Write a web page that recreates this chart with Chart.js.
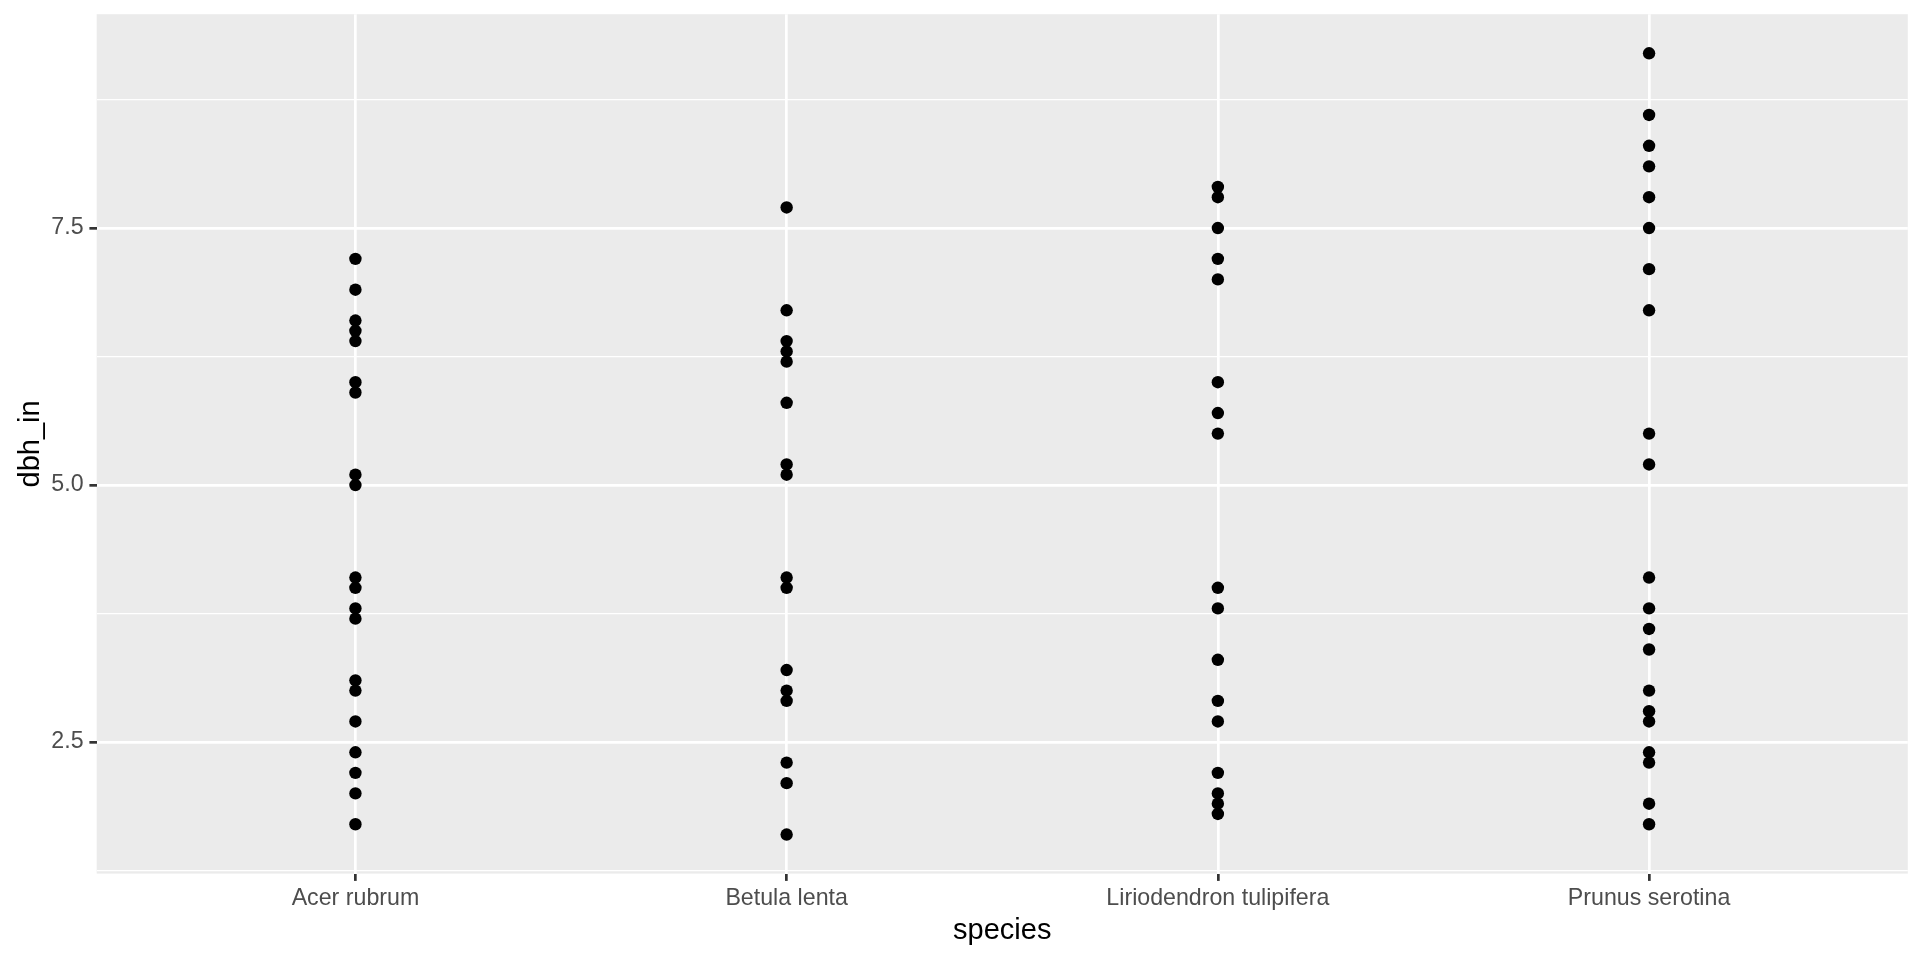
<!DOCTYPE html>
<html>
<head>
<meta charset="utf-8">
<script src="https://cdn.jsdelivr.net/npm/chart.js@4.4.1/dist/chart.umd.min.js"></script>
<style>
  html, body { margin: 0; padding: 0; background: #ffffff; }
  #wrap { width: 1920px; height: 960px; }
</style>
</head>
<body>
<div id="wrap"><canvas id="c" width="1920" height="960"></canvas></div>
<script>
const categories = ["Acer rubrum", "Betula lenta", "Liriodendron tulipifera", "Prunus serotina"];
const acerRubrum = [7.2, 6.9, 6.6, 6.5, 6.4, 6.0, 5.9, 5.1, 5.0, 4.1, 4.0, 3.8, 3.7, 3.1, 3.0, 2.7, 2.4, 2.2, 2.0, 1.7];
const betulaLenta = [7.7, 6.7, 6.4, 6.3, 6.2, 5.8, 5.2, 5.1, 4.1, 4.0, 3.2, 3.0, 2.9, 2.3, 2.1, 1.6];
const liriodendron = [7.9, 7.8, 7.5, 7.2, 7.0, 6.0, 5.7, 5.5, 4.0, 3.8, 3.3, 2.9, 2.7, 2.2, 2.0, 1.9, 1.8];
const prunusSerotina = [9.2, 8.6, 8.3, 8.1, 7.8, 7.5, 7.1, 6.7, 5.5, 5.2, 4.1, 3.8, 3.6, 3.4, 3.0, 2.8, 2.7, 2.4, 2.3, 1.9, 1.7];
const yMajorTicks = [2.5, 5.0, 7.5];
const yMinorTicks = [1.25, 3.75, 6.25, 8.75];
const yTickLabels = ["2.5", "5.0", "7.5"];

const seriesValues = [acerRubrum, betulaLenta, liriodendron, prunusSerotina];
const points = [];
seriesValues.forEach((vals, i) => vals.forEach(v => points.push({ x: i + 1, y: v })));

const panelBg = {
  id: 'panelBg',
  beforeDraw(chart) {
    const { ctx, chartArea: a } = chart;
    ctx.save();
    ctx.fillStyle = '#EBEBEB';
    ctx.fillRect(a.left, a.top, a.right - a.left, a.bottom - a.top);
    ctx.restore();
  }
};

const isMajorY = v => yMajorTicks.some(t => Math.abs(t - v) < 1e-9);
const FONT = 'Liberation Sans, Arial, sans-serif';

new Chart(document.getElementById('c'), {
  type: 'scatter',
  data: {
    datasets: [{
      data: points,
      backgroundColor: '#000000',
      borderWidth: 0,
      pointRadius: 6.2,
      pointHoverRadius: 6.2
    }]
  },
  options: {
    responsive: false,
    animation: false,
    devicePixelRatio: 1,
    layout: { padding: { left: 0, top: 14.2, right: 12.2, bottom: 0 } },
    plugins: { legend: { display: false }, tooltip: { enabled: false } },
    scales: {
      x: {
        type: 'linear',
        min: 0.4,
        max: 4.6,
        afterBuildTicks(scale) {
          scale.ticks = categories.map((c, i) => ({ value: i + 1 }));
        },
        afterFit(scale) {
          scale.height = 86.4;
          scale.paddingLeft = 0;
          scale.paddingRight = 0;
        },
        border: { display: false },
        grid: {
          color: '#FFFFFF',
          lineWidth: 2.7,
          tickColor: '#333333',
          tickWidth: 2.7,
          tickLength: 7.3
        },
        ticks: {
          maxRotation: 0,
          autoSkip: false,
          padding: 4,
          color: '#4D4D4D',
          font: { family: FONT, size: 23.2 },
          callback: (v) => categories[Math.round(v) - 1]
        },
        title: {
          display: true,
          text: 'species',
          color: '#000000',
          font: { family: FONT, size: 29 },
          padding: { top: 0, bottom: 12 }
        }
      },
      y: {
        type: 'linear',
        min: 1.22,
        max: 9.58,
        afterBuildTicks(scale) {
          scale.ticks = yMinorTicks.concat(yMajorTicks).sort((a, b) => a - b).map(v => ({ value: v }));
        },
        afterFit(scale) {
          scale.width = 96.7;
          scale.paddingTop = 0;
          scale.paddingBottom = 0;
        },
        border: { display: false },
        grid: {
          color: '#FFFFFF',
          lineWidth: (ctx) => (ctx.tick && isMajorY(ctx.tick.value)) ? 2.7 : 1.35,
          tickColor: (ctx) => (ctx.tick && isMajorY(ctx.tick.value)) ? '#333333' : 'rgba(0,0,0,0)',
          tickWidth: 2.7,
          tickLength: 7.3
        },
        ticks: {
          autoSkip: false,
          padding: 5.8,
          color: '#4D4D4D',
          font: { family: FONT, size: 23.2 },
          callback: (v) => {
            const i = yMajorTicks.findIndex(t => Math.abs(t - v) < 1e-9);
            return i >= 0 ? yTickLabels[i] : '';
          }
        },
        title: {
          display: true,
          text: 'dbh_in',
          color: '#000000',
          font: { family: FONT, size: 29 },
          padding: { top: 13.2, bottom: 0 }
        }
      }
    }
  },
  plugins: [panelBg]
});
</script>
</body>
</html>
